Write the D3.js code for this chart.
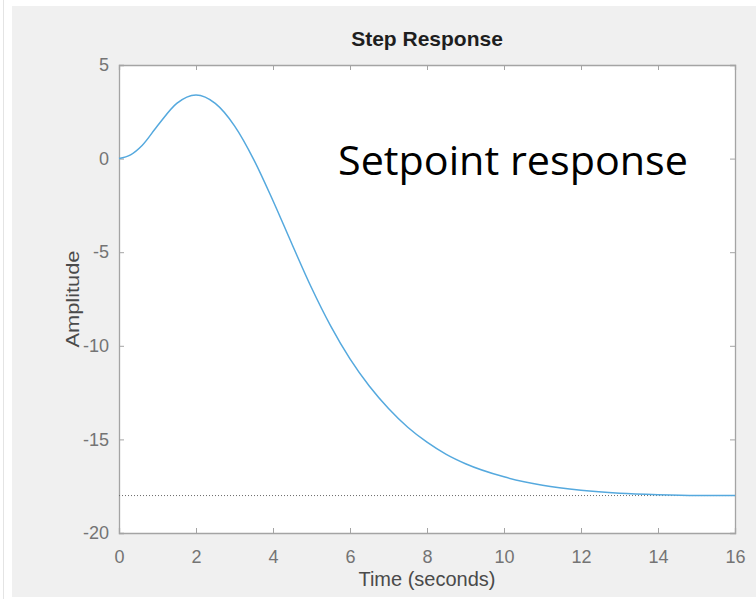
<!DOCTYPE html>
<html>
<head>
<meta charset="utf-8">
<script src="https://cdn.jsdelivr.net/npm/d3@7"></script>
<style>
  body { margin: 0; background: #fff; }
  .tick text { font-family: "Liberation Sans", Arial, sans-serif; font-size: 18px; fill: #747474; }
  .axis path, .axis line { stroke: #a4a4a4; }
</style>
</head>
<body>
<svg id="chart" width="756" height="599"></svg>
<script>
// step response samples
const time = [0, 0.3, 0.6, 1.0, 1.5, 2.0, 2.5, 3.0, 3.5, 4.0, 4.5, 5.0, 5.5, 6.0,
              6.5, 7.0, 7.5, 8.0, 8.5, 9.0, 10, 11, 12, 13, 14, 15, 16];
const amplitude = [0, 0.2, 0.7, 1.75, 2.95, 3.4, 2.95, 1.75, -0.05, -2.25, -4.6, -6.9,
                   -8.95, -10.7, -12.15, -13.35, -14.35, -15.15, -15.8, -16.3, -17.0,
                   -17.45, -17.72, -17.88, -17.96, -18.0, -18.0];
const finalValue = -18;
const xTicks = [0, 2, 4, 6, 8, 10, 12, 14, 16];
const yTicks = [5, 0, -5, -10, -15, -20];

const svg = d3.select("#chart");
const margin = { top: 65, right: 21, bottom: 66, left: 119 };
const width = 756 - margin.left - margin.right;
const height = 599 - margin.top - margin.bottom;

// figure background
svg.append("line").attr("x1", 3.5).attr("x2", 3.5).attr("y1", 0).attr("y2", 599)
  .attr("stroke", "#e4e4e4");
svg.append("rect").attr("x", 12).attr("y", 6).attr("width", 744).attr("height", 591)
  .attr("fill", "#f0f0f0");

const g = svg.append("g").attr("transform", "translate(" + margin.left + "," + margin.top + ")");
g.append("rect").attr("width", width).attr("height", height).attr("fill", "#fff");

const x = d3.scaleLinear().domain([0, 16]).range([0, width]);
const y = d3.scaleLinear().domain([-20, 5]).range([height, 0]);
const fmt = d => String(d);

// axes, ticks pointing inward on all sides
g.append("g").attr("class", "axis")
  .attr("transform", "translate(0," + height + ")")
  .call(d3.axisBottom(x).tickValues(xTicks).tickSize(-5).tickPadding(17).tickFormat(fmt));
g.append("g").attr("class", "axis")
  .call(d3.axisTop(x).tickValues(xTicks).tickSize(-5).tickFormat(""));
g.append("g").attr("class", "axis")
  .call(d3.axisLeft(y).tickValues(yTicks).tickSize(-5).tickPadding(10).tickFormat(fmt));
g.append("g").attr("class", "axis")
  .attr("transform", "translate(" + width + ",0)")
  .call(d3.axisRight(y).tickValues(yTicks).tickSize(-5).tickFormat(""));
g.selectAll(".axis .domain").attr("stroke", "#a4a4a4").attr("stroke-width", 1.3);

// steady-state value
g.append("line")
  .attr("x1", 0).attr("x2", width)
  .attr("y1", y(finalValue)).attr("y2", y(finalValue))
  .attr("stroke", "#6a6a6a").attr("stroke-width", 1).attr("stroke-dasharray", "1,2");

const line = d3.line()
  .x((d, i) => x(time[i]))
  .y(d => y(d))
  .curve(d3.curveMonotoneX);

g.append("path")
  .datum(amplitude)
  .attr("fill", "none")
  .attr("stroke", "#55a9de")
  .attr("stroke-width", 1.5)
  .attr("d", line);

// titles
svg.append("text")
  .attr("x", margin.left + width / 2).attr("y", 46)
  .attr("text-anchor", "middle")
  .attr("font-family", "Liberation Sans, Arial, sans-serif")
  .attr("font-size", 21).attr("font-weight", "bold").attr("fill", "#1e1e1e")
  .text("Step Response");

svg.append("text")
  .attr("x", margin.left + width / 2).attr("y", 586)
  .attr("text-anchor", "middle")
  .attr("font-family", "Liberation Sans, Arial, sans-serif")
  .attr("font-size", 20).attr("fill", "#4a4a4a")
  .text("Time (seconds)");

svg.append("text")
  .attr("transform", "translate(79," + 299 + ") rotate(-90)")
  .attr("text-anchor", "middle")
  .attr("font-family", "Liberation Sans, Arial, sans-serif")
  .attr("font-size", 19).attr("fill", "#4a4a4a")
  .attr("textLength", 97).attr("lengthAdjust", "spacingAndGlyphs")
  .text("Amplitude");

// annotation
svg.append("text")
  .attr("x", 338).attr("y", 175)
  .attr("font-family", "Open Sans, Noto Sans, sans-serif")
  .attr("font-size", 40).attr("fill", "#000")
  .attr("textLength", 350).attr("lengthAdjust", "spacingAndGlyphs")
  .text("Setpoint response");
</script>
</body>
</html>
